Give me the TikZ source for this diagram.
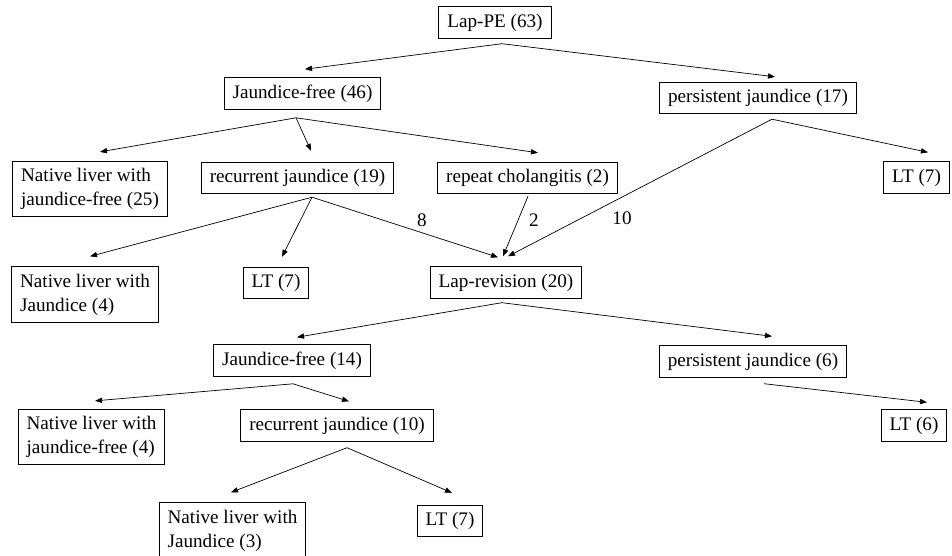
\documentclass[tikz,border=0pt]{standalone}
\usepackage{fontspec}
\setmainfont{Liberation Serif}
\usepackage{tikz}
\usetikzlibrary{arrows.meta,positioning}

\begin{document}
\begin{tikzpicture}[
  box/.style={rectangle, draw=black, line width=0.55pt, fill=white, align=left,
              inner xsep=4.8pt, inner ysep=4pt, font=\fontsize{10.9}{13.6}\selectfont},
  arrow/.style={-{Triangle[length=4pt,width=3pt]}, line width=0.4pt, black},
  count/.style={font=\fontsize{10.9}{13.6}\selectfont, inner sep=0pt}
]
\useasboundingbox (0,0) rectangle (19.04,-11.1);

% Level 1
\node[box] (lappe) at (9.90,-0.45) {Lap-PE (63)};

% Level 2
\node[box] (jf46) at (6.05,-1.87)  {Jaundice-free (46)};
\node[box] (pj17) at (15.16,-1.96) {persistent jaundice (17)};

% Level 3
\node[box] (nl25) at (1.80,-3.78)  {Native liver with\\jaundice-free (25)};
\node[box] (rj19) at (5.95,-3.56)  {recurrent jaundice (19)};
\node[box] (rc2)  at (10.55,-3.56) {repeat cholangitis (2)};
\node[box] (lt7a) at (18.33,-3.55) {LT (7)};

% Level 4
\node[box] (nl4)  at (1.70,-5.89)  {Native liver with\\Jaundice (4)};
\node[box] (lt7b) at (5.52,-5.66)  {LT (7)};
\node[box] (lr20) at (10.12,-5.65) {Lap-revision (20)};

% Level 5: after revision
\node[box] (jf14) at (5.84,-7.21)  {Jaundice-free (14)};
\node[box] (pj6)  at (15.06,-7.23) {persistent jaundice (6)};

% Level 6
\node[box] (nl4b) at (1.83,-8.74)  {Native liver with\\jaundice-free (4)};
\node[box] (rj10) at (6.74,-8.51)  {recurrent jaundice (10)};
\node[box] (lt6)  at (18.28,-8.51) {LT (6)};

% Level 7
\node[box] (nl3)  at (4.65,-10.61) {Native liver with\\Jaundice (3)};
\node[box] (lt7c) at (9.00,-10.42) {LT (7)};

% Counts into Lap-revision
\node[count] (n8)  at (8.44,-4.40)  {8};
\node[count] (n2)  at (10.68,-4.40) {2};
\node[count] (n10) at (12.44,-4.36) {10};

% Connectors
\draw[arrow] ([shift={(0.14,-0.10)}]lappe.south) -- ([shift={(0.05,0.16)}]jf46.north);
\draw[arrow] ([shift={(0.14,-0.10)}]lappe.south) -- ([shift={(0.34,0.10)}]pj17.north);

\draw[arrow] ([shift={(-0.13,-0.16)}]jf46.south) -- ([shift={(0.20,0.18)}]nl25.north);
\draw[arrow] ([shift={(-0.13,-0.16)}]jf46.south) -- ([shift={(0.27,0.22)}]rj19.north);
\draw[arrow] ([shift={(-0.13,-0.16)}]jf46.south) -- ([shift={(0.21,0.18)}]rc2.north);

\draw[arrow] ([shift={(0.28,-0.10)}]pj17.south) -- ([shift={(0.23,0.18)}]lt7a.north);
\draw[arrow] ([shift={(0.28,-0.10)}]pj17.south) -- ([shift={(0.04,0.20)}]lr20.north);

\draw[arrow] ([shift={(0.29,-0.06)}]rj19.south) -- ([shift={(0.10,0.20)}]nl4.north);
\draw[arrow] ([shift={(0.29,-0.06)}]rj19.south) -- ([shift={(0.12,0.20)}]lt7b.north);
\draw[arrow] ([shift={(0.29,-0.06)}]rj19.south) -- ([shift={(-0.16,0.18)}]lr20.north);

\draw[arrow] ([shift={(0.01,-0.04)}]rc2.south) -- ([shift={(-0.06,0.20)}]lr20.north);

\draw[arrow] ([shift={(-0.08,-0.08)}]lr20.south) -- ([shift={(0.10,0.14)}]jf14.north);
\draw[arrow] ([shift={(-0.08,-0.08)}]lr20.south) -- ([shift={(0.38,0.18)}]pj6.north);

\draw[arrow] ([shift={(0.02,-0.14)}]jf14.south) -- ([shift={(0.07,0.16)}]nl4b.north);
\draw[arrow] ([shift={(0.02,-0.14)}]jf14.south) -- ([shift={(0.24,0.16)}]rj10.north);

\draw[arrow] ([shift={(0.22,-0.12)}]pj6.south) -- ([shift={(0.26,0.14)}]lt6.north);

\draw[arrow] ([shift={(0.20,-0.12)}]rj10.south) -- ([shift={(-0.03,0.20)}]nl3.north);
\draw[arrow] ([shift={(0.20,-0.12)}]rj10.south) -- ([shift={(0.04,0.24)}]lt7c.north);
\end{tikzpicture}
\end{document}
